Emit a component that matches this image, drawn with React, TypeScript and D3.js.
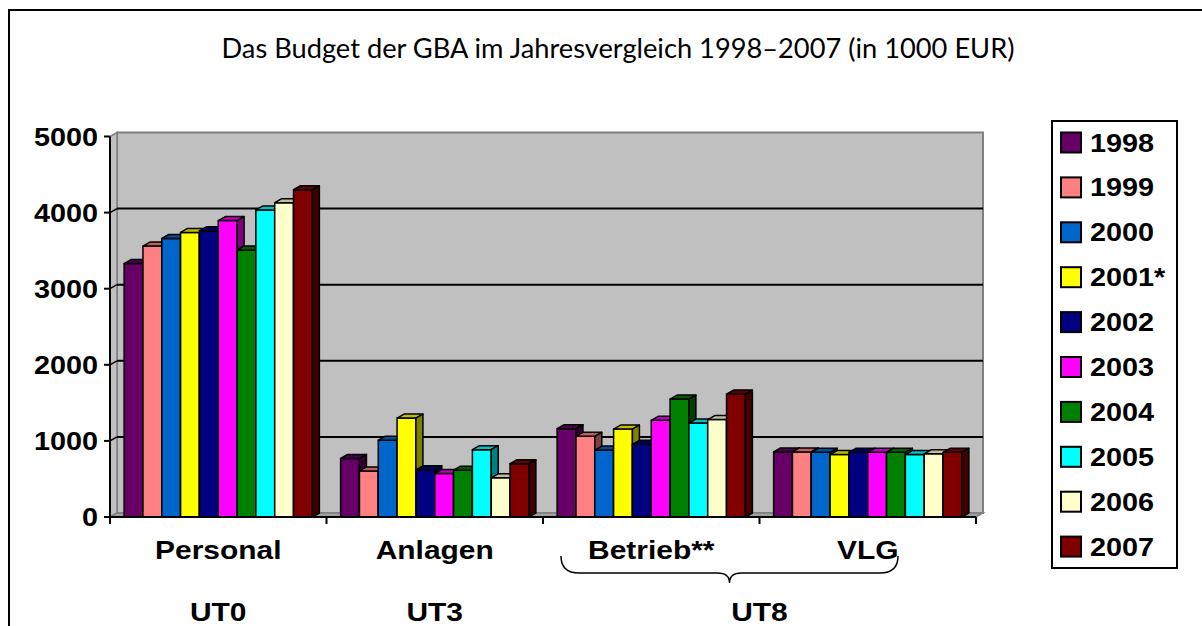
import React from "react";
import * as d3 from "d3";

const categories = ["Personal", "Anlagen", "Betrieb**", "VLG"];
const groups = ["UT0", "UT3", "UT8"];
const years = ["1998", "1999", "2000", "2001*", "2002", "2003", "2004", "2005", "2006", "2007"];
const colors = ["#660066", "#FF8080", "#0066CC", "#FFFF00", "#000080", "#FF00FF", "#008000", "#00FFFF", "#FFFFCC", "#800000"];

// values per category, one per year (in 1000 EUR)
const personal = [3330, 3560, 3660, 3740, 3760, 3895, 3510, 4035, 4130, 4300];
const anlagen = [770, 605, 1010, 1300, 620, 570, 615, 885, 515, 700];
const betrieb = [1160, 1060, 880, 1155, 955, 1270, 1550, 1235, 1280, 1615];
const vlg = [855, 855, 850, 820, 850, 850, 850, 820, 830, 850];
const series = [personal, anlagen, betrieb, vlg];
const yTicks = [0, 1000, 2000, 3000, 4000, 5000];

const W = 1202;
const H = 626;
const left = 110;
const right = 976;
const base = 517;
const top = 136.5;
const dx = 7;
const dy = -4;
const boldFont = "'Liberation Sans', Arial, sans-serif";
const sx = 1.13;

export default function App() {
  const x0 = d3.scaleBand().domain(categories).range([left, right]).padding(0);
  const x1 = d3.scaleBand().domain(years).range([0, x0.bandwidth()]).paddingInner(0).paddingOuter(0.75);
  const y = d3.scaleLinear().domain([0, 5000]).range([base, top]);
  const shade = (c: string, k: number) => {
    const col = d3.rgb(c);
    return d3.rgb(col.r * k, col.g * k, col.b * k).toString();
  };

  const poly = (pts: number[][]) => pts.map((p) => p.join(",")).join(" ");
  const cx = (c: string) => (x0(c) as number) + x0.bandwidth() / 2;
  const groupX = [cx(categories[0]), cx(categories[1]), (cx(categories[2]) + cx(categories[3])) / 2];

  // brace under Betrieb + VLG
  const bL = 561, bR = 898, bM = (bL + bR) / 2, bTop = 556, bMid = 573, bTip = 583;
  const brace = d3.path();
  brace.moveTo(bL, bTop);
  brace.quadraticCurveTo(bL, bMid, bL + 18, bMid);
  brace.lineTo(bM - 12, bMid);
  brace.quadraticCurveTo(bM, bMid, bM, bTip);
  brace.quadraticCurveTo(bM, bMid, bM + 12, bMid);
  brace.lineTo(bR - 18, bMid);
  brace.quadraticCurveTo(bR, bMid, bR, bTop);

  return (
    <svg width={W} height={H} style={{ position: "absolute", left: 0, top: 0, background: "#fff" }}>
      <rect x={9} y={10} width={1210} height={640} fill="#fff" stroke="#000" strokeWidth={2} />
      <text x={618} y={58} textAnchor="middle" fontFamily="Lato, 'Open Sans', sans-serif" fontSize={26} textLength={793} lengthAdjust="spacingAndGlyphs">
        Das Budget der GBA im Jahresvergleich 1998–2007 (in 1000 EUR)
      </text>

      {/* walls */}
      <polygon points={poly([[left + dx, top + dy], [right + dx, top + dy], [right + dx, base + dy], [left + dx, base + dy]])} fill="#C0C0C0" stroke="#808080" strokeWidth={2} />
      <polygon points={poly([[left, top], [left + dx, top + dy], [left + dx, base + dy], [left, base]])} fill="#C0C0C0" stroke="#808080" strokeWidth={1.5} />
      <polygon points={poly([[left, base], [left + dx, base + dy], [right + dx, base + dy], [right, base]])} fill="#A0A0A0" stroke="#808080" strokeWidth={1.5} />
      {yTicks.filter((t) => t > 0 && t < 5000).map((t) => (
        <g key={t}>
          <line x1={left + dx} x2={right + dx} y1={y(t) + dy} y2={y(t) + dy} stroke="#000" strokeWidth={2} />
          <line x1={left} x2={left + dx} y1={y(t)} y2={y(t) + dy} stroke="#000" strokeWidth={1.5} />
        </g>
      ))}

      {/* bars */}
      {categories.map((c, ci) => (
        <g key={c} transform={`translate(${x0(c)},0)`}>
          {series[ci].map((v, i) => {
            const bx = x1(years[i]) as number;
            const bw = x1.bandwidth();
            const yt = y(v);
            return (
              <g key={i} stroke="#000" strokeWidth={1.5} strokeLinejoin="round">
                <rect x={bx} y={yt} width={bw} height={base - yt} fill={colors[i]} />
                <polygon points={poly([[bx, yt], [bx + dx, yt + dy], [bx + bw + dx, yt + dy], [bx + bw, yt]])} fill={shade(colors[i], 0.75)} />
                <polygon points={poly([[bx + bw, yt], [bx + bw + dx, yt + dy], [bx + bw + dx, base + dy], [bx + bw, base]])} fill={shade(colors[i], 0.5)} />
              </g>
            );
          })}
        </g>
      ))}

      {/* axes */}
      <line x1={left} x2={left} y1={top} y2={base} stroke="#000" strokeWidth={2} />
      <line x1={left} x2={right} y1={base} y2={base} stroke="#000" strokeWidth={2} />
      {yTicks.map((t) => (
        <g key={t}>
          <line x1={left - 6} x2={left} y1={y(t)} y2={y(t)} stroke="#000" strokeWidth={2} />
          <text transform={`translate(98,${y(t) + 9}) scale(${sx},1)`} textAnchor="end" fontFamily={boldFont} fontWeight="bold" fontSize={25.5}>
            {t}
          </text>
        </g>
      ))}
      {[...categories.map((c) => x0(c) as number), right].map((xv, i) => (
        <line key={i} x1={xv} x2={xv} y1={base} y2={base + 7} stroke="#000" strokeWidth={2} />
      ))}
      {categories.map((c) => (
        <text key={c} transform={`translate(${cx(c)},559) scale(${sx},1)`} textAnchor="middle" fontFamily={boldFont} fontWeight="bold" fontSize={26.5}>
          {c}
        </text>
      ))}
      <path d={brace.toString()} fill="none" stroke="#000" strokeWidth={1.5} />
      {groups.map((g, i) => (
        <text key={g} transform={`translate(${groupX[i]},621) scale(${sx},1)`} textAnchor="middle" fontFamily={boldFont} fontWeight="bold" fontSize={26.5}>
          {g}
        </text>
      ))}

      {/* legend */}
      <rect x={1052} y={121} width={125} height={447} fill="#fff" stroke="#000" strokeWidth={2} />
      {years.map((yr, i) => {
        const ly = 142.5 + i * 44.9;
        return (
          <g key={yr}>
            <rect x={1061} y={ly - 10} width={20} height={20} fill={colors[i]} stroke="#000" strokeWidth={2} />
            <text transform={`translate(1090,${ly + 9}) scale(${sx},1)`} fontFamily={boldFont} fontWeight="bold" fontSize={25.5}>
              {yr}
            </text>
          </g>
        );
      })}
    </svg>
  );
}
